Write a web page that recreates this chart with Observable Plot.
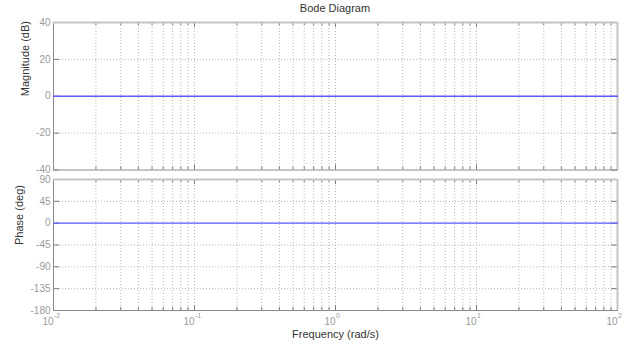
<!DOCTYPE html>
<html>
<head>
<meta charset="utf-8">
<script src="https://cdn.jsdelivr.net/npm/d3@7"></script>
<script src="https://cdn.jsdelivr.net/npm/@observablehq/plot@0.6"></script>
<style>
  html, body { margin: 0; padding: 0; background: white; }
  #wrap { position: relative; width: 634px; height: 345px; font-family: "Liberation Sans", Arial, sans-serif; }
  #title { position: absolute; left: 53px; width: 564px; top: 2px; text-align: center; font-size: 11px; color: #333; }
  .panel { position: absolute; left: 0; }
</style>
</head>
<body>
<div id="wrap">
  <div id="title">Bode Diagram</div>
  <div id="p1" class="panel" style="top:0px"></div>
  <div id="p2" class="panel" style="top:172px"></div>
</div>
<script>
// ---- data ----
const freq = [0.01, 100];          // rad/s
const magnitude = [0, 0];          // dB
const phase = [0, 0];              // deg
const decades = [0.01, 0.1, 1, 10, 100];
const decadeExponents = ["-2", "-1", "0", "1", "2"];
const minorMultipliers = [2, 3, 4, 5, 6, 7, 8, 9];
const magTicks = [-40, -20, 0, 20, 40];
const phaseTicks = [-180, -135, -90, -45, 0, 45, 90];
const xLabel = "Frequency (rad/s)";
const magLabel = "Magnitude (dB)";
const phaseLabel = "Phase (deg)";

// ---- derived tables ----
const minors = decades.slice(0, -1).flatMap(d => minorMultipliers.map(m => d * m));
const magData = freq.map((f, i) => ({f, v: magnitude[i]}));
const phaseData = freq.map((f, i) => ({f, v: phase[i]}));
const decadeData = decades.map((d, i) => ({d, e: decadeExponents[i]}));

const W = 634, ML = 53, MR = 17;
const gridColor = "#b4b4b4";
const tickColor = "#7a7a7a";
const frameColor = "#8a8a8a";
const lineColor = "#5c5cff";

function panel({height, mt, mb, yTicks, data, label, labelDx, bottomAxis}) {
  const fh = height - mt - mb;
  const inner = yTicks.slice(1, -1);
  const marks = [
    Plot.ruleX(minors, {x: d => d, stroke: gridColor, strokeDasharray: "1,2"}),
    Plot.ruleX(decades.slice(1, -1), {x: d => d, stroke: gridColor, strokeDasharray: "1,2"}),
    Plot.ruleY(inner, {y: d => d, stroke: gridColor, strokeDasharray: "1,2"}),
    // inward ticks, top & bottom
    Plot.tickX(minors, {x: d => d, stroke: tickColor, insetBottom: fh - 3}),
    Plot.tickX(minors, {x: d => d, stroke: tickColor, insetTop: fh - 3}),
    Plot.tickX(decades, {x: d => d, stroke: tickColor, insetBottom: fh - 5}),
    Plot.tickX(decades, {x: d => d, stroke: tickColor, insetTop: fh - 5}),
    // inward ticks, left & right
    Plot.tickY(yTicks, {y: d => d, stroke: tickColor, insetRight: (W - ML - MR) - 6}),
    Plot.tickY(yTicks, {y: d => d, stroke: tickColor, insetLeft: (W - ML - MR) - 6}),
    Plot.frame({stroke: frameColor}),
    Plot.ruleY([yTicks[yTicks.length - 1]], {y: d => d, stroke: "#c4c4c4", strokeWidth: 2}),
    Plot.ruleX([decades[decades.length - 1]], {x: d => d, stroke: "#c4c4c4", strokeWidth: 2}),
    Plot.line(data, {x: "f", y: "v", stroke: lineColor, strokeWidth: 1.4}),
    Plot.axisY({ticks: yTicks, tickFormat: d => String(d), tickSize: 0, tickPadding: 3, label: null, fill: "#9a9a9a", fontSize: 10}),
    Plot.text([label], {frameAnchor: "left", rotate: -90, dx: labelDx, fill: "#333", fontSize: 11})
  ];
  if (bottomAxis) {
    marks.push(
      Plot.text(decadeData, {x: "d", text: () => "10", frameAnchor: "bottom", textAnchor: "end", lineAnchor: "top", dy: 7, fill: "#9a9a9a", fontSize: 10}),
      Plot.text(decadeData, {x: "d", text: "e", frameAnchor: "bottom", textAnchor: "start", lineAnchor: "top", dy: 3, dx: 0.5, fill: "#9a9a9a", fontSize: 7}),
      Plot.text([xLabel], {frameAnchor: "bottom", lineAnchor: "top", dy: 20, fill: "#333", fontSize: 11})
    );
  }
  return Plot.plot({
    width: W, height,
    marginLeft: ML, marginRight: MR, marginTop: mt, marginBottom: mb,
    style: {background: "transparent", overflow: "visible", fontFamily: "'Liberation Sans', Arial, sans-serif"},
    x: {type: "log", domain: [decades[0], decades[decades.length - 1]], axis: null},
    y: {domain: [yTicks[0], yTicks[yTicks.length - 1]], axis: null},
    marks
  });
}

document.getElementById("p1").append(panel({height: 172, mt: 22, mb: 2.5, yTicks: magTicks, data: magData, label: magLabel, labelDx: -28, bottomAxis: false}));
document.getElementById("p2").append(panel({height: 173, mt: 7, mb: 35, yTicks: phaseTicks, data: phaseData, label: phaseLabel, labelDx: -34, bottomAxis: true}));
</script>
</body>
</html>
